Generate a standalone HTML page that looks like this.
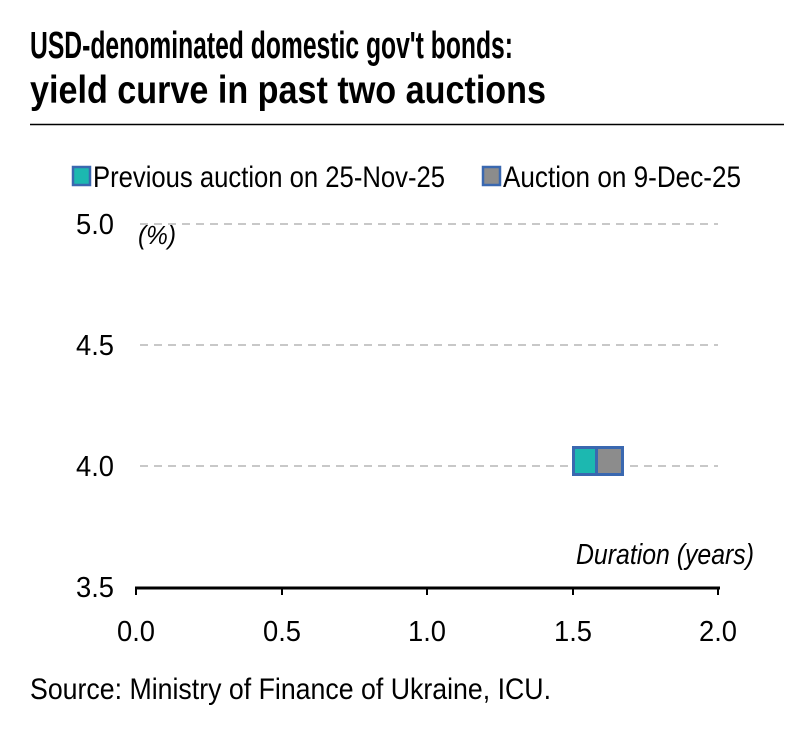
<!DOCTYPE html>
<html><head><style>body{margin:0;background:#fff}svg{display:block}</style></head><body>
<svg width="798" height="730" xmlns="http://www.w3.org/2000/svg" font-family="Liberation Sans, sans-serif">
<text x="30" y="58" font-size="38" font-weight="bold" textLength="483" lengthAdjust="spacingAndGlyphs">USD-denominated domestic gov't bonds:</text>
<text x="30" y="103" font-size="39" font-weight="bold" textLength="516" lengthAdjust="spacingAndGlyphs">yield curve in past two auctions</text>
<line x1="30" y1="124.5" x2="784" y2="124.5" stroke="#000" stroke-width="1.5"/>
<rect x="73" y="167" width="17" height="18" fill="#1cb8b0" stroke="#3a68b0" stroke-width="2.5"/>
<text x="93" y="187" font-size="30" textLength="352" lengthAdjust="spacingAndGlyphs">Previous auction on 25-Nov-25</text>
<rect x="483" y="167" width="17" height="18" fill="#8c8c8c" stroke="#3a68b0" stroke-width="2.5"/>
<text x="503" y="187" font-size="30" textLength="238" lengthAdjust="spacingAndGlyphs">Auction on 9-Dec-25</text>
<g stroke="#c8c8c8" stroke-width="2" stroke-dasharray="8,6">
<line x1="140" y1="224" x2="718" y2="224"/>
<line x1="140" y1="345" x2="718" y2="345"/>
<line x1="140" y1="466" x2="718" y2="466"/>
</g>
<g font-size="29" text-anchor="end">
<text x="114" y="234" textLength="38" lengthAdjust="spacingAndGlyphs">5.0</text>
<text x="114" y="355" textLength="38" lengthAdjust="spacingAndGlyphs">4.5</text>
<text x="114" y="476" textLength="38" lengthAdjust="spacingAndGlyphs">4.0</text>
<text x="114" y="597" textLength="38" lengthAdjust="spacingAndGlyphs">3.5</text>
</g>
<text x="138" y="244" font-size="26" font-style="italic" textLength="38" lengthAdjust="spacingAndGlyphs">(%)</text>
<text x="576" y="564" font-size="29" font-style="italic" textLength="178" lengthAdjust="spacingAndGlyphs">Duration (years)</text>
<line x1="135" y1="588" x2="720" y2="588" stroke="#000" stroke-width="3"/>
<g stroke="#000" stroke-width="2">
<line x1="136" y1="588" x2="136" y2="595"/><line x1="282" y1="588" x2="282" y2="595"/><line x1="427" y1="588" x2="427" y2="595"/><line x1="573" y1="588" x2="573" y2="595"/><line x1="718" y1="588" x2="718" y2="595"/>
</g>
<g font-size="29" text-anchor="middle">
<text x="136" y="641" textLength="38" lengthAdjust="spacingAndGlyphs">0.0</text><text x="282" y="641" textLength="38" lengthAdjust="spacingAndGlyphs">0.5</text><text x="427" y="641" textLength="38" lengthAdjust="spacingAndGlyphs">1.0</text><text x="573" y="641" textLength="38" lengthAdjust="spacingAndGlyphs">1.5</text><text x="718" y="641" textLength="38" lengthAdjust="spacingAndGlyphs">2.0</text>
</g>
<rect x="573.5" y="447.5" width="26" height="27" fill="#1cb8b0" stroke="#3a68b0" stroke-width="3"/>
<rect x="596.5" y="447.5" width="26" height="27" fill="#8c8c8c" stroke="#3a68b0" stroke-width="3"/>
<text x="30" y="699" font-size="30" textLength="521" lengthAdjust="spacingAndGlyphs">Source: Ministry of Finance of Ukraine, ICU.</text>
</svg>
</body></html>
